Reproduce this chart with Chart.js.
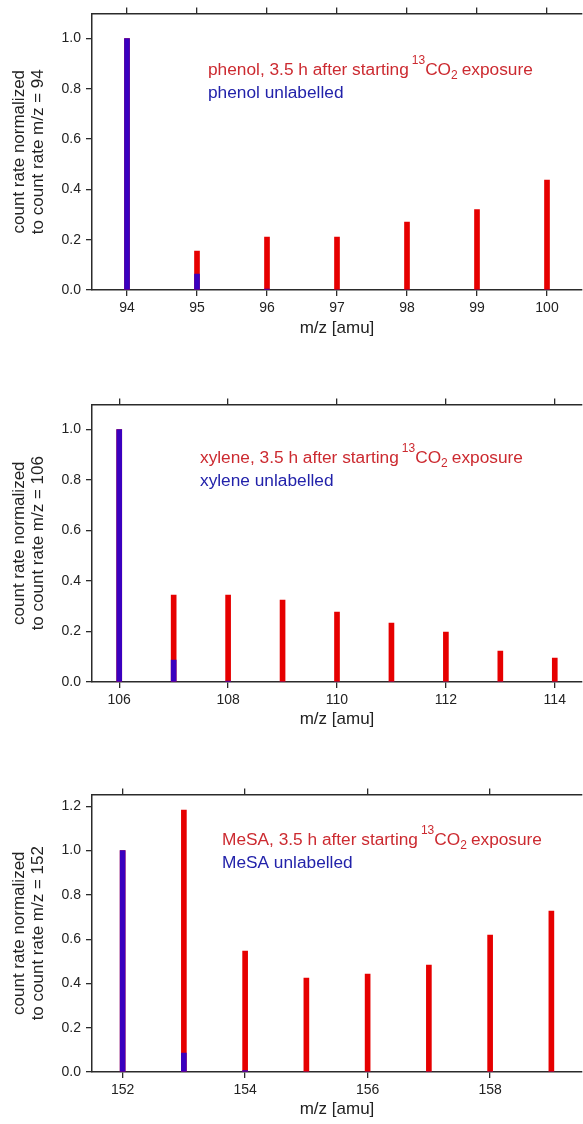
<!DOCTYPE html>
<html>
<head>
<meta charset="utf-8">
<script src="https://cdn.jsdelivr.net/npm/chart.js@4"></script>
<style>
  body { margin: 0; background: #fff; width: 583px; height: 1124px; overflow: hidden; }
  .panel { position: absolute; left: 0; width: 583px; height: 343px; }
</style>
</head>
<body>
<div class="panel" style="top:0px"><canvas id="phenolChart" width="583" height="343"></canvas></div>
<div class="panel" style="top:391px"><canvas id="xyleneChart" width="583" height="343"></canvas></div>
<div class="panel" style="top:781px"><canvas id="mesaChart" width="583" height="343"></canvas></div>
<script>
// phenol
const phenolMz = [94, 95, 96, 97, 98, 99, 100];
const phenolLabelled = [1.0, 0.155, 0.21, 0.21, 0.27, 0.32, 0.437];
const phenolUnlabelled = [1.0, 0.063, 0.004, 0, 0, 0, 0];

// xylene
const xyleneMz = [106, 107, 108, 109, 110, 111, 112, 113, 114];
const xyleneLabelled = [1.0, 0.344, 0.344, 0.325, 0.277, 0.233, 0.198, 0.123, 0.095];
const xyleneUnlabelled = [1.0, 0.087, 0.004, 0, 0, 0, 0, 0, 0];

// MeSA
const mesaMz = [152, 153, 154, 155, 156, 157, 158, 159];
const mesaLabelled = [1.0, 1.183, 0.546, 0.424, 0.442, 0.483, 0.618, 0.727];
const mesaUnlabelled = [1.0, 0.086, 0.006, 0, 0, 0, 0, 0];

// tick labels
const phenolXTicks = [94, 95, 96, 97, 98, 99, 100];
const xyleneXTicks = [106, 108, 110, 112, 114];
const mesaXTicks = [152, 154, 156, 158];
const phenolYTicks = [0, 0.2, 0.4, 0.6, 0.8, 1.0];
const xyleneYTicks = [0, 0.2, 0.4, 0.6, 0.8, 1.0];
const mesaYTicks = [0, 0.2, 0.4, 0.6, 0.8, 1.0, 1.2];

const RED = '#e60000';
const BLUE = '#3a00bf';
const TXT_RED = '#cc2a30';
const TXT_BLUE = '#2222aa';
const AXIS = '#2b2b2b';
const FONT = "'Liberation Sans', Arial, sans-serif";

function pts(xs, ys) {
    return xs.map((x, i) => ({ x: x, y: ys[i] }));
}

// legend-like annotation with 13CO2
const annotation = {
    id: 'annotation',
    afterDraw(chart, args, opts) {
        const ctx = chart.ctx;
        ctx.save();
        ctx.textBaseline = 'alphabetic';
        ctx.textAlign = 'left';
        let x = opts.x;
        const y = opts.y;
        ctx.fillStyle = TXT_RED;
        ctx.font = '17.3px ' + FONT;
        const t1 = opts.name + ', 3.5 h after starting';
        ctx.fillText(t1, x, y);
        x += ctx.measureText(t1).width + 3;
        ctx.font = '12px ' + FONT;
        ctx.fillText('13', x, y - 11);
        x += ctx.measureText('13').width;
        ctx.font = '17.3px ' + FONT;
        ctx.fillText('CO', x, y);
        x += ctx.measureText('CO').width;
        ctx.font = '12px ' + FONT;
        ctx.fillText('2', x, y + 4);
        x += ctx.measureText('2').width + 4;
        ctx.font = '17.3px ' + FONT;
        ctx.fillText('exposure', x, y);
        ctx.fillStyle = TXT_BLUE;
        ctx.fillText(opts.name + ' unlabelled', opts.x, y + 23);
        ctx.restore();
    }
};

function makeChart(id, cfg) {
    const ctx = document.getElementById(id).getContext('2d');
    const setXTicks = s => { s.ticks = cfg.xTicks.map(v => ({ value: v })); };
    const xGrid = { offset: false, drawOnChartArea: false, drawTicks: true, tickLength: 6, color: AXIS, lineWidth: 1.3 };
    return new Chart(ctx, {
        type: 'bar',
        data: {
            datasets: [
                {
                    label: cfg.name + ' unlabelled',
                    data: pts(cfg.mz, cfg.unlabelled),
                    backgroundColor: BLUE,
                    barThickness: 5,
                    grouped: false,
                    order: 0
                },
                {
                    label: cfg.name + ', 3.5 h after starting 13CO2 exposure',
                    data: pts(cfg.mz, cfg.labelled),
                    backgroundColor: RED,
                    barThickness: 5,
                    grouped: false,
                    order: 1
                }
            ]
        },
        options: {
            responsive: false,
            animation: false,
            layout: { padding: { left: 0, right: 1, top: 0, bottom: 0 } },
            plugins: {
                legend: { display: false },
                tooltip: { enabled: false },
                annotation: { name: cfg.name, x: cfg.textX, y: cfg.textY }
            },
            scales: {
                x: {
                    type: 'linear',
                    position: 'bottom',
                    min: cfg.xMin,
                    max: cfg.xMax,
                    offset: false,
                    afterFit: s => { s.height = 343 - cfg.bottom; },
                    afterBuildTicks: setXTicks,
                    grid: xGrid,
                    border: { display: true, color: AXIS, width: 1.5 },
                    ticks: {
                        color: '#222',
                        padding: 4,
                        font: { family: FONT, size: 14 },
                        maxRotation: 0,
                        autoSkip: false,
                        callback: v => String(v)
                    },
                    title: {
                        display: true,
                        text: 'm/z [amu]',
                        color: '#222',
                        font: { family: FONT, size: 17 },
                        padding: { top: 5 }
                    }
                },
                xTop: {
                    type: 'linear',
                    position: 'top',
                    min: cfg.xMin,
                    max: cfg.xMax,
                    offset: false,
                    afterFit: s => { s.height = cfg.top; },
                    afterBuildTicks: setXTicks,
                    grid: xGrid,
                    border: { display: true, color: AXIS, width: 1.5 },
                    ticks: { display: false, autoSkip: false }
                },
                y: {
                    min: 0,
                    max: cfg.yMax,
                    afterFit: s => { s.width = 92; },
                    afterBuildTicks: s => { s.ticks = cfg.yTicks.map(v => ({ value: v })); },
                    grid: { drawOnChartArea: false, drawTicks: true, tickLength: 6, color: AXIS, lineWidth: 1.3 },
                    border: { display: true, color: AXIS, width: 1.5 },
                    ticks: {
                        color: '#222',
                        padding: 5,
                        font: { family: FONT, size: 14 },
                        callback: v => Number(v).toFixed(1)
                    },
                    title: {
                        display: true,
                        text: ['count rate normalized', cfg.yTitle2],
                        color: '#222',
                        font: { family: FONT, size: 17, lineHeight: 1.1 },
                        padding: { top: 10, bottom: 0 }
                    }
                }
            }
        },
        plugins: [annotation]
    });
}

makeChart('phenolChart', {
    name: 'phenol',
    mz: phenolMz, labelled: phenolLabelled, unlabelled: phenolUnlabelled,
    xMin: 93.5, xMax: 100.5, xTicks: phenolXTicks,
    yMax: 1.1, yTicks: phenolYTicks,
    yTitle2: 'to count rate m/z = 94',
    top: 13, bottom: 290,
    textX: 208, textY: 75
});

makeChart('xyleneChart', {
    name: 'xylene',
    mz: xyleneMz, labelled: xyleneLabelled, unlabelled: xyleneUnlabelled,
    xMin: 105.5, xMax: 114.5, xTicks: xyleneXTicks,
    yMax: 1.1, yTicks: xyleneYTicks,
    yTitle2: 'to count rate m/z = 106',
    top: 13, bottom: 291,
    textX: 200, textY: 72
});

makeChart('mesaChart', {
    name: 'MeSA',
    mz: mesaMz, labelled: mesaLabelled, unlabelled: mesaUnlabelled,
    xMin: 151.5, xMax: 159.5, xTicks: mesaXTicks,
    yMax: 1.254, yTicks: mesaYTicks,
    yTitle2: 'to count rate m/z = 152',
    top: 13, bottom: 291,
    textX: 222, textY: 64
});
</script>
</body>
</html>
